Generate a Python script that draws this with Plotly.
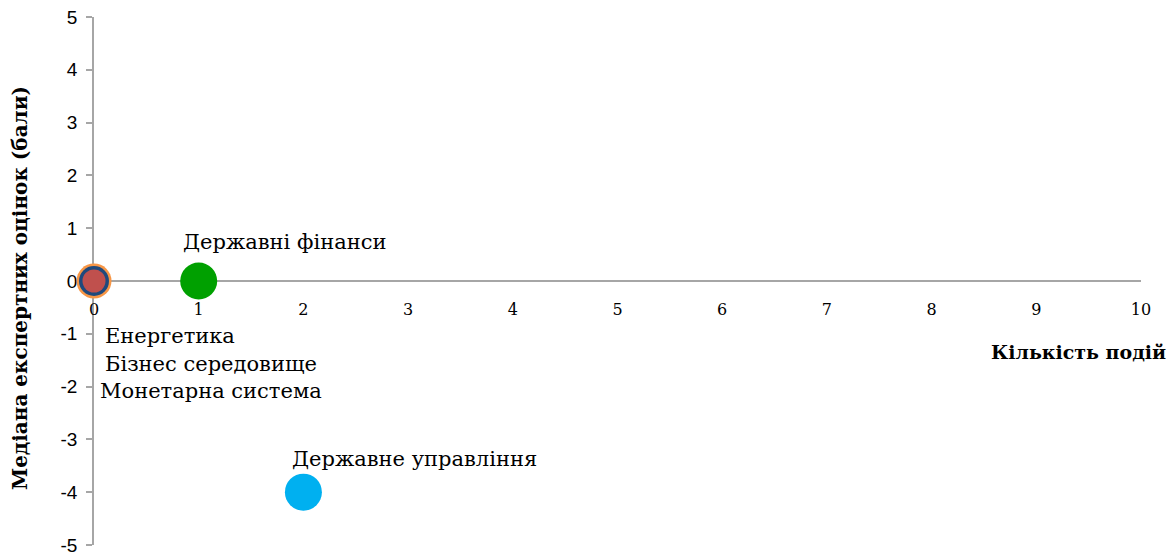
import plotly.graph_objects as go

# Data
sectors = ["Монетарна система", "Бізнес середовище", "Енергетика", "Державні фінанси", "Державне управління"]
event_counts = [0, 0, 0, 1, 2]
median_scores = [0, 0, 0, 0, -4]
colors = ["#F79646", "#1F497D", "#C0504D", "#00A000", "#00B0F0"]
sizes = [35, 30, 23, 37, 37]

x_ticks = list(range(0, 11))
y_ticks = list(range(-5, 6))
y_ticktext = [str(v) for v in y_ticks]

serif = "DejaVu Serif"
sans = "Liberation Sans"

fig = go.Figure()
for name, xv, yv, c, s in zip(sectors, event_counts, median_scores, colors, sizes):
    fig.add_trace(go.Scatter(
        x=[xv], y=[yv], mode="markers", name=name,
        marker=dict(color=c, size=s, line=dict(width=0)),
        showlegend=False, cliponaxis=False,
    ))

# labels
label_cfg = {
    "Державні фінанси": dict(xshift=-18, yshift=39, xanchor="left", yanchor="middle"),
    "Державне управління": dict(xshift=-13, yshift=33, xanchor="left", yanchor="middle"),
    "Енергетика": dict(xshift=9, yshift=-55, xanchor="left", yanchor="middle"),
    "Бізнес середовище": dict(xshift=9, yshift=-83, xanchor="left", yanchor="middle"),
    "Монетарна система": dict(xshift=4, yshift=-110, xanchor="left", yanchor="middle"),
}
for name, xv, yv in zip(sectors, event_counts, median_scores):
    cfg = label_cfg[name]
    fig.add_annotation(x=xv, y=yv, xref="x", yref="y", text=name, showarrow=False,
                       font=dict(family=serif, size=21, color="#000000"), **cfg)

fig.add_annotation(x=1.0, y=0, xref="paper", yref="y", text="<b>Кількість подій</b>",
                   showarrow=False, xanchor="right", yanchor="middle", xshift=27, yshift=-71,
                   font=dict(family=serif, size=19, color="#000000"))

fig.add_annotation(x=0, y=0.5, xref="paper", yref="paper", text="<b>Медіана експертних оцінок (бали)</b>",
                   showarrow=False, textangle=-90, xanchor="center", yanchor="middle",
                   xshift=-74, yshift=-7,
                   font=dict(family=serif, size=20, color="#000000"))

fig.update_layout(
    width=1168, height=547,
    margin=dict(l=86, r=35, t=9, b=10, autoexpand=False),
    paper_bgcolor="white", plot_bgcolor="white",
    xaxis=dict(range=[0, 10], tickvals=x_ticks, showgrid=False, zeroline=False,
               showline=True, linecolor="#A6A6A6", linewidth=1.5, layer="below traces",
               anchor="free", position=0.5, ticks="", ticklabelstandoff=14, automargin=False,
               ticklabeloverflow="allow",
               tickfont=dict(family=serif, size=16, color="#000000")),
    yaxis=dict(range=[-5, 5], tickvals=y_ticks, ticktext=y_ticktext, showgrid=False, zeroline=False,
               showline=True, linecolor="#A6A6A6", linewidth=1.5, layer="below traces",
               ticks="outside", ticklen=6, tickcolor="#A6A6A6", tickwidth=1.5, automargin=False,
               ticklabelstandoff=5, ticklabeloverflow="allow",
               tickfont=dict(family=sans, size=19, color="#000000")),
)

fig.write_html("out.html")
